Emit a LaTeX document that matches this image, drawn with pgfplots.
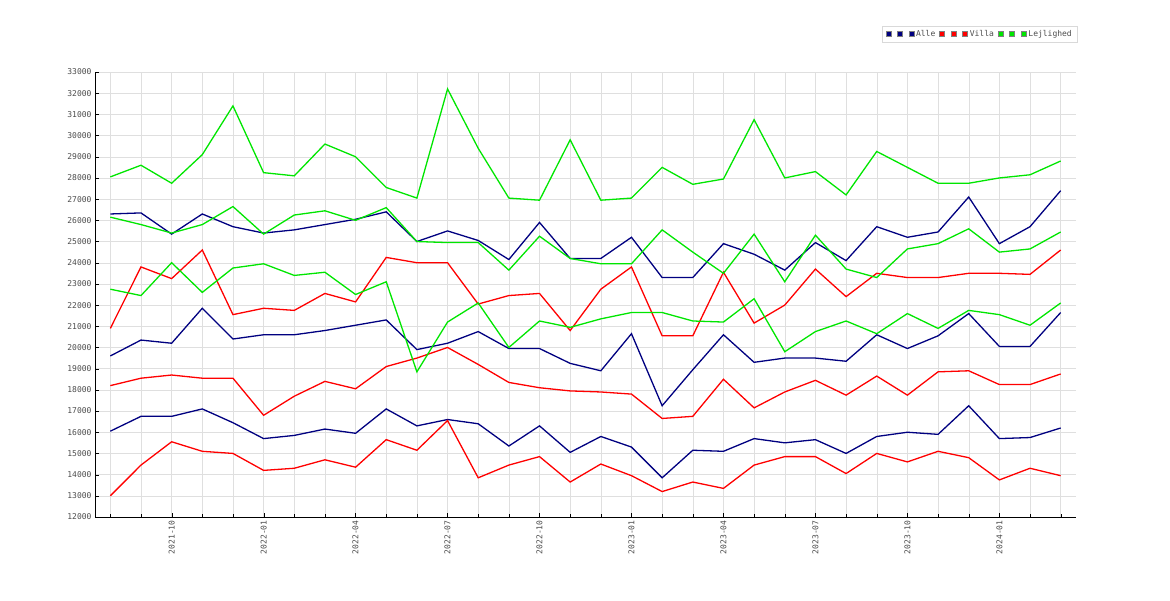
\documentclass[border=0pt]{standalone}
\usepackage{pgfplots}
\pgfplotsset{compat=1.18}
\usepackage{fontspec}
\setmainfont{DejaVu Sans Mono}
\definecolor{bl}{RGB}{0,0,128}
\definecolor{rd}{RGB}{255,0,0}
\definecolor{gr}{RGB}{0,230,0}
\begin{document}
\begin{tikzpicture}
\path[use as bounding box] (0,0) rectangle (1170pt,600pt);
\begin{axis}[at={(95pt,83pt)},anchor=south west,scale only axis,width=981pt,height=445pt,
xmin=-0.5,xmax=31.5,ymin=12000,ymax=33000,
ytick={12000,13000,...,33000},
xtick={2,5,8,11,14,17,20,23,26,29},
xticklabels={2021-10,2022-01,2022-04,2022-07,2022-10,2023-01,2023-04,2023-07,2023-10,2024-01},
minor xtick={0,...,31},
xticklabel style={rotate=90,anchor=east,font=\fontsize{8}{9}\selectfont,text=black!70},
yticklabel style={font=\fontsize{8}{9}\selectfont,text=black!70},
/pgf/number format/assume math mode=true,
scaled y ticks=false,
y tick label style={/pgf/number format/set thousands separator={}},
grid=both,major grid style={gray!25},minor grid style={gray!25},
axis line style={black},tick style={black},
axis x line*=bottom,axis y line*=left,
legend columns=9,
legend style={at={(1.001,1.103)},anchor=north east,draw=gray!30,font=\fontsize{8}{9}\selectfont,text=black!70,
 /tikz/every even column/.append style={column sep=2pt}},
legend image code/.code={\filldraw[#1,draw=gray,line width=0.5pt] (0pt,-2.5pt) rectangle (5pt,2.5pt);},
every axis plot/.append style={line width=1.3pt,mark=none},
]
\addplot[bl] coordinates {(0,26300)(1,26350)(2,25350)(3,26300)(4,25700)(5,25400)(6,25550)(7,25800)(8,26050)(9,26400)(10,25000)(11,25500)(12,25050)(13,24150)(14,25900)(15,24200)(16,24200)(17,25200)(18,23300)(19,23300)(20,24900)(21,24400)(22,23650)(23,24950)(24,24100)(25,25700)(26,25200)(27,25450)(28,27100)(29,24900)(30,25700)(31,27400)};
\addlegendentry{}
\addplot[bl] coordinates {(0,19600)(1,20350)(2,20200)(3,21850)(4,20400)(5,20600)(6,20600)(7,20800)(8,21050)(9,21300)(10,19900)(11,20200)(12,20750)(13,19950)(14,19950)(15,19250)(16,18900)(17,20650)(18,17250)(19,18950)(20,20600)(21,19300)(22,19500)(23,19500)(24,19350)(25,20600)(26,19950)(27,20550)(28,21600)(29,20050)(30,20050)(31,21650)};
\addlegendentry{}
\addplot[bl] coordinates {(0,16050)(1,16750)(2,16750)(3,17100)(4,16450)(5,15700)(6,15850)(7,16150)(8,15950)(9,17100)(10,16300)(11,16600)(12,16400)(13,15350)(14,16300)(15,15050)(16,15800)(17,15300)(18,13850)(19,15150)(20,15100)(21,15700)(22,15500)(23,15650)(24,15000)(25,15800)(26,16000)(27,15900)(28,17250)(29,15700)(30,15750)(31,16200)};
\addlegendentry{Alle}
\addplot[rd] coordinates {(0,20900)(1,23800)(2,23250)(3,24600)(4,21550)(5,21850)(6,21750)(7,22550)(8,22150)(9,24250)(10,24000)(11,24000)(12,22050)(13,22450)(14,22550)(15,20800)(16,22750)(17,23800)(18,20550)(19,20550)(20,23550)(21,21150)(22,22000)(23,23700)(24,22400)(25,23500)(26,23300)(27,23300)(28,23500)(29,23500)(30,23450)(31,24600)};
\addlegendentry{}
\addplot[rd] coordinates {(0,18200)(1,18550)(2,18700)(3,18550)(4,18550)(5,16800)(6,17700)(7,18400)(8,18050)(9,19100)(10,19500)(11,20000)(12,19200)(13,18350)(14,18100)(15,17950)(16,17900)(17,17800)(18,16650)(19,16750)(20,18500)(21,17150)(22,17900)(23,18450)(24,17750)(25,18650)(26,17750)(27,18850)(28,18900)(29,18250)(30,18250)(31,18750)};
\addlegendentry{}
\addplot[rd] coordinates {(0,13000)(1,14450)(2,15550)(3,15100)(4,15000)(5,14200)(6,14300)(7,14700)(8,14350)(9,15650)(10,15150)(11,16550)(12,13850)(13,14450)(14,14850)(15,13650)(16,14500)(17,13950)(18,13200)(19,13650)(20,13350)(21,14450)(22,14850)(23,14850)(24,14050)(25,15000)(26,14600)(27,15100)(28,14800)(29,13750)(30,14300)(31,13950)};
\addlegendentry{Villa}
\addplot[gr] coordinates {(0,28050)(1,28600)(2,27750)(3,29100)(4,31400)(5,28250)(6,28100)(7,29600)(8,29000)(9,27550)(10,27050)(11,32200)(12,29400)(13,27050)(14,26950)(15,29800)(16,26950)(17,27050)(18,28500)(19,27700)(20,27950)(21,30750)(22,28000)(23,28300)(24,27200)(25,29250)(26,28500)(27,27750)(28,27750)(29,28000)(30,28150)(31,28800)};
\addlegendentry{}
\addplot[gr] coordinates {(0,26150)(1,25800)(2,25400)(3,25800)(4,26650)(5,25350)(6,26250)(7,26450)(8,26000)(9,26600)(10,25000)(11,24950)(12,24950)(13,23650)(14,25250)(15,24200)(16,23950)(17,23950)(18,25550)(19,24500)(20,23500)(21,25350)(22,23100)(23,25300)(24,23700)(25,23300)(26,24650)(27,24900)(28,25600)(29,24500)(30,24650)(31,25450)};
\addlegendentry{}
\addplot[gr] coordinates {(0,22750)(1,22450)(2,24000)(3,22600)(4,23750)(5,23950)(6,23400)(7,23550)(8,22500)(9,23100)(10,18850)(11,21200)(12,22100)(13,20000)(14,21250)(15,20950)(16,21350)(17,21650)(18,21650)(19,21250)(20,21200)(21,22300)(22,19800)(23,20750)(24,21250)(25,20650)(26,21600)(27,20900)(28,21750)(29,21550)(30,21050)(31,22100)};
\addlegendentry{Lejlighed}
\end{axis}
\end{tikzpicture}
\end{document}
